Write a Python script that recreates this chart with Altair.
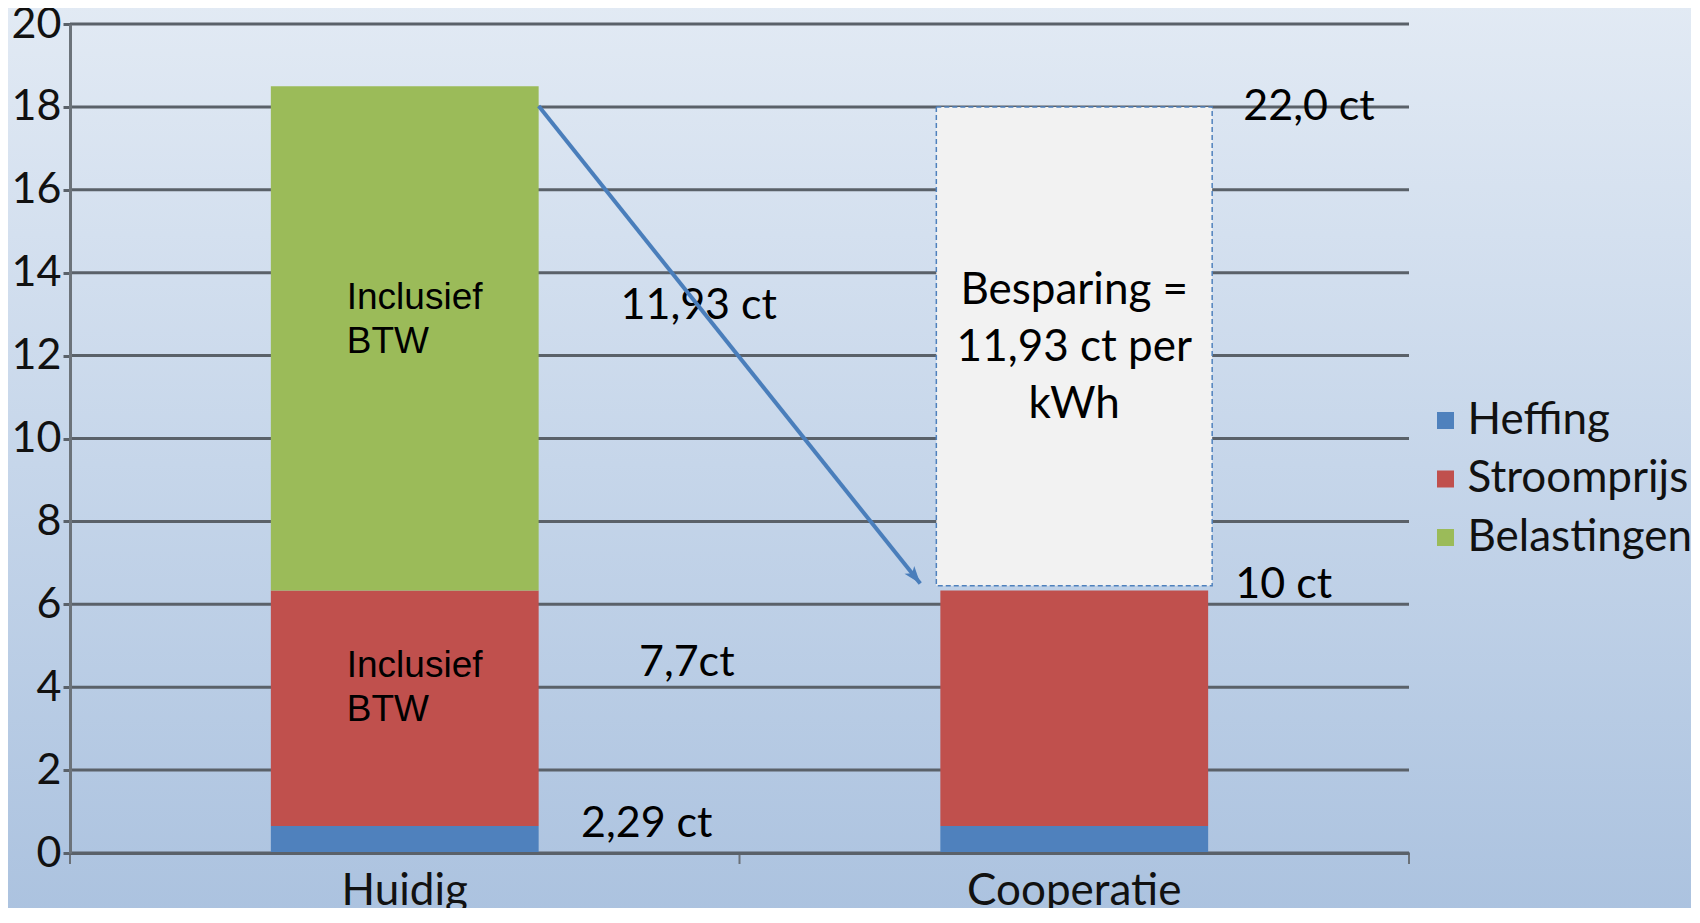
import altair as alt
import pandas as pd

# ---------------- data ----------------
categories = ["Huidig", "Cooperatie"]
series = ["Heffing", "Stroomprijs", "Belastingen"]
series_colors = ["#4f81bd", "#c0504d", "#9bbb59"]
huidig_values = [0.65, 5.68, 12.17]
coop_values = [0.65, 5.68]
savings_top = [18.0]
savings_bottom = [6.45]
y_ticks = [0, 2, 4, 6, 8, 10, 12, 14, 16, 18, 20]
x_tick_pos = [0, 1, 2]
arrow_x = [0.70, 1.27]
arrow_y = [18.02, 6.5]

btw_y = [13.39, 4.50]
btw_text = ["Inclusief\nBTW", "Inclusief\nBTW"]
mid_labels = ["11,93 ct", "7,7ct", "2,29 ct"]
mid_y = [13.2, 4.58, 0.71]
mid_dx = [294, 282, 242]
right_labels = ["22,0 ct", "10 ct"]
right_y = [18.0, 6.46]
right_dx = [169, 161]
box_text = ["Besparing =\n11,93 ct per\nkWh"]
box_text_y = [13.57]

# ---------------- tables ----------------
bars_df = pd.DataFrame({
    "cat": ["Huidig"] * 3 + ["Cooperatie"] * 2,
    "serie": series + series[:2],
    "val": huidig_values + coop_values,
    "ord": [0, 1, 2, 0, 1],
})
grid_df = pd.DataFrame({"ty": y_ticks})
box_df = pd.DataFrame({"cat": ["Cooperatie"], "top": savings_top, "bot": savings_bottom})
arrow_df = pd.DataFrame({"ax": arrow_x, "ty": arrow_y})
head_df = arrow_df.iloc[[1]]
xtick_df = pd.DataFrame({"ax": x_tick_pos})

W, H = 1339, 829
GRID = "#5a6169"

xscale = alt.Scale(domain=categories, paddingInner=0.6, paddingOuter=0.3)
xaxis = alt.Axis(title=None, labelFont="Lato", labelFontSize=44, labelColor="#111111",
                 ticks=False, domainColor=GRID, domainWidth=3, labelPadding=16,
                 grid=False, zindex=1, labelAngle=0, labelLimit=0)
yscale = alt.Scale(domain=[0, 20], nice=False, zero=True)
yaxis = alt.Axis(title=None, values=y_ticks, grid=False, labelFont="Lato", labelFontSize=43,
                 labelColor="#111111", tickSize=7, tickColor=GRID, tickWidth=3,
                 domainColor="#6c737a", domainWidth=3, labelPadding=2, zindex=1)


def X():
    return alt.X("cat:N", scale=xscale, axis=xaxis, sort=categories)


def Y(field):
    return alt.Y(field, scale=yscale, axis=yaxis)


# background gradient
bg = alt.Chart(pd.DataFrame({"a": [0]})).mark_rect(
    color=alt.Gradient(gradient="linear",
                       stops=[alt.GradientStop(color="#e2eaf4", offset=0),
                              alt.GradientStop(color="#c6d6ea", offset=0.5),
                              alt.GradientStop(color="#abc2df", offset=1)],
                       x1=0, x2=0, y1=0, y2=1)
).encode(x=alt.value(-70), x2=alt.value(W + 300), y=alt.value(-20), y2=alt.value(H + 70))

grid = alt.Chart(grid_df).mark_rule(color=GRID, strokeWidth=3).encode(
    y=Y("ty:Q"), x=alt.value(0), x2=alt.value(W)
)

bars = alt.Chart(bars_df).mark_bar().encode(
    x=X(),
    y=alt.Y("val:Q", scale=yscale, axis=yaxis, stack="zero"),
    color=alt.Color("serie:N", scale=alt.Scale(domain=series, range=series_colors),
                    legend=alt.Legend(orient="none", legendX=1342, legendY=374.5, title=None,
                                      symbolType="square", symbolSize=289, symbolStrokeWidth=0,
                                      symbolOffset=11.5,
                                      labelFont="Lato", labelFontSize=44, labelColor="#111111",
                                      rowPadding=14.5, labelOffset=0, padding=0, labelLimit=0)),
    order=alt.Order("ord:Q"),
)

box = alt.Chart(box_df).mark_bar(width={"band": 1.03}, fill="#f2f2f2", stroke="#4f81bd",
                                 strokeWidth=1.5, strokeDash=[5, 3]).encode(
    x=X(), y=Y("top:Q"), y2="bot:Q"
)

btw_layer = alt.Chart(pd.DataFrame({"cat": ["Huidig", "Huidig"], "ty": btw_y, "t": btw_text})).mark_text(
    dx=-58, align="left", baseline="middle", font="Liberation Sans", fontSize=37,
    lineBreak="\n", lineHeight=44, color="#000000"
).encode(x=X(), y=Y("ty:Q"), text="t:N")

mid_layers = []
for lab, yy, dx in zip(mid_labels, mid_y, mid_dx):
    mid_layers.append(
        alt.Chart(pd.DataFrame({"cat": ["Huidig"], "ty": [yy], "t": [lab]})).mark_text(
            dx=dx, align="center", baseline="middle", font="Lato", fontSize=43, color="#000000"
        ).encode(x=X(), y=Y("ty:Q"), text="t:N")
    )

right_layers = []
for lab, yy, dx in zip(right_labels, right_y, right_dx):
    right_layers.append(
        alt.Chart(pd.DataFrame({"cat": ["Cooperatie"], "ty": [yy], "t": [lab]})).mark_text(
            dx=dx, align="left", baseline="middle", font="Lato", fontSize=43, color="#000000"
        ).encode(x=X(), y=Y("ty:Q"), text="t:N")
    )

box_txt = alt.Chart(pd.DataFrame({"cat": ["Cooperatie"], "ty": box_text_y, "t": box_text})).mark_text(
    align="center", baseline="middle", font="Lato", fontSize=44, lineBreak="\n",
    lineHeight=57, color="#000000"
).encode(x=X(), y=Y("ty:Q"), text="t:N")

inner = alt.layer(bars, box, btw_layer, *mid_layers, *right_layers, box_txt)

ax_enc = alt.X("ax:Q", scale=alt.Scale(domain=[0, 2], nice=False, zero=False), axis=None)
xticks = alt.Chart(xtick_df).mark_rule(color="#6b7178", strokeWidth=2).encode(
    x=ax_enc, y=alt.value(H), y2=alt.value(H + 11)
)
arrow_line = alt.Chart(arrow_df).mark_line(color="#4a7ebb", strokeWidth=4).encode(
    x=ax_enc, y=Y("ty:Q")
)
arrow_head = alt.Chart(head_df).mark_point(
    shape="M0,0 L-0.5,1.4 L0,1.05 L0.5,1.4 Z", filled=True, size=620, angle=141.4,
    color="#4a7ebb", opacity=1
).encode(x=ax_enc, y=Y("ty:Q"))

chart = alt.layer(bg, grid, inner, xticks, arrow_line, arrow_head).resolve_scale(x="independent").properties(
    width=W, height=H,
    autosize=alt.AutoSizeParams(type="none"),
    padding={"left": 62, "top": 16, "right": 282, "bottom": 55},
).configure_view(stroke=None)

chart.save("out.html", embed_options={"renderer": "svg", "actions": False})
